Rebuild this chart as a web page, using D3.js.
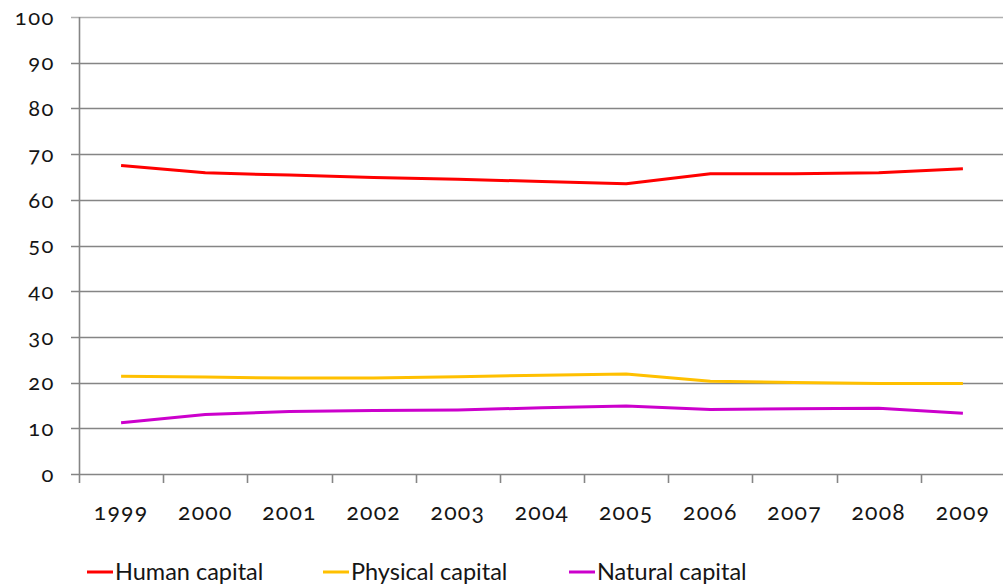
<!DOCTYPE html>
<html>
<head>
<meta charset="utf-8">
<script src="https://cdn.jsdelivr.net/npm/d3@7"></script>
<style>
  html, body { margin: 0; padding: 0; background: #fff; }
  svg { display: block; }
  .tick-label { font-family: Lato, "Open Sans", sans-serif; font-variant-numeric: oldstyle-nums; fill: #151515; }
  .legend-label { font-family: Lato, "Open Sans", sans-serif; fill: #151515; }
</style>
</head>
<body>
<svg id="chart" width="1004" height="588"></svg>
<script>
// Share of total wealth by capital type, 1999–2009 (%)
const years = ["1999", "2000", "2001", "2002", "2003", "2004", "2005", "2006", "2007", "2008", "2009"];
const humanCapital    = [67.5, 65.9, 65.4, 64.9, 64.5, 64.0, 63.5, 65.7, 65.7, 65.9, 66.8];
const physicalCapital = [21.4, 21.2, 21.0, 21.0, 21.3, 21.6, 21.9, 20.3, 20.0, 19.8, 19.8];
const naturalCapital  = [11.2, 13.0, 13.7, 13.9, 14.0, 14.5, 14.9, 14.1, 14.3, 14.4, 13.3];
const yTicks = [0, 10, 20, 30, 40, 50, 60, 70, 80, 90, 100];
const seriesNames  = ["Human capital", "Physical capital", "Natural capital"];
const seriesColors = ["#ff0000", "#ffc000", "#cc00cc"];

const series = [humanCapital, physicalCapital, naturalCapital].map((values, i) => ({
  name: seriesNames[i],
  color: seriesColors[i],
  values: values.map((v, j) => ({ year: years[j], value: v }))
}));

const svg = d3.select("#chart");
const plot = { left: 79, right: 1005, top: 17, bottom: 474 };

const x = d3.scaleBand().domain(years).range([plot.left, plot.right]).padding(0);
const y = d3.scaleLinear().domain([0, 100]).range([plot.bottom, plot.top]);

// horizontal gridlines (with short ticks left of the axis)
svg.append("g")
  .selectAll("line")
  .data(yTicks)
  .join("line")
  .attr("x1", plot.left - 8)
  .attr("x2", 1003)
  .attr("y1", d => Math.round(y(d)) + 0.5)
  .attr("y2", d => Math.round(y(d)) + 0.5)
  .attr("stroke", d => d === 100 ? "#b0b0b0" : "#858585")
  .attr("stroke-width", 1.6);

// vertical axis line
svg.append("line")
  .attr("x1", plot.left + 0.5).attr("x2", plot.left + 0.5)
  .attr("y1", plot.top).attr("y2", plot.bottom + 9)
  .attr("stroke", "#858585").attr("stroke-width", 1.6);

// category boundary ticks below the x axis
svg.append("g")
  .selectAll("line")
  .data(years.slice(1))
  .join("line")
  .attr("x1", d => Math.round(x(d)) + 0.5)
  .attr("x2", d => Math.round(x(d)) + 0.5)
  .attr("y1", plot.bottom)
  .attr("y2", plot.bottom + 9)
  .attr("stroke", "#858585").attr("stroke-width", 1.6);

// y tick labels
svg.append("g")
  .selectAll("text")
  .data(yTicks)
  .join("text")
  .attr("class", "tick-label")
  .attr("x", 55)
  .attr("y", d => y(d))
  .attr("dy", "0.35em")
  .attr("text-anchor", "end")
  .style("font-size", "22px")
  .style("letter-spacing", "1.5px")
  .text(d => d);

// x tick labels
svg.append("g")
  .selectAll("text")
  .data(years)
  .join("text")
  .attr("class", "tick-label")
  .attr("x", d => x(d) + x.bandwidth() / 2)
  .attr("y", 512)
  .attr("dy", "0.35em")
  .attr("text-anchor", "middle")
  .style("font-size", "23px")
  .style("letter-spacing", "1.2px")
  .text(d => d);

// series lines
const line = d3.line()
  .x(d => x(d.year) + x.bandwidth() / 2)
  .y(d => y(d.value))
  .curve(d3.curveLinear);

svg.append("g")
  .selectAll("path")
  .data(series)
  .join("path")
  .attr("fill", "none")
  .attr("stroke", d => d.color)
  .attr("stroke-width", 3)
  .attr("stroke-linejoin", "round")
  .attr("d", d => line(d.values));

// legend
const legendX = [87, 323, 569];
const legend = svg.append("g")
  .selectAll("g")
  .data(series)
  .join("g")
  .attr("transform", (d, i) => `translate(${legendX[i]},572)`);

legend.append("line")
  .attr("x1", 0).attr("x2", 26)
  .attr("stroke", d => d.color)
  .attr("stroke-width", 3);

legend.append("text")
  .attr("class", "legend-label")
  .attr("x", 28)
  .attr("dy", "0.35em")
  .style("font-size", "23.5px")
  .text(d => d.name);
</script>
</body>
</html>
